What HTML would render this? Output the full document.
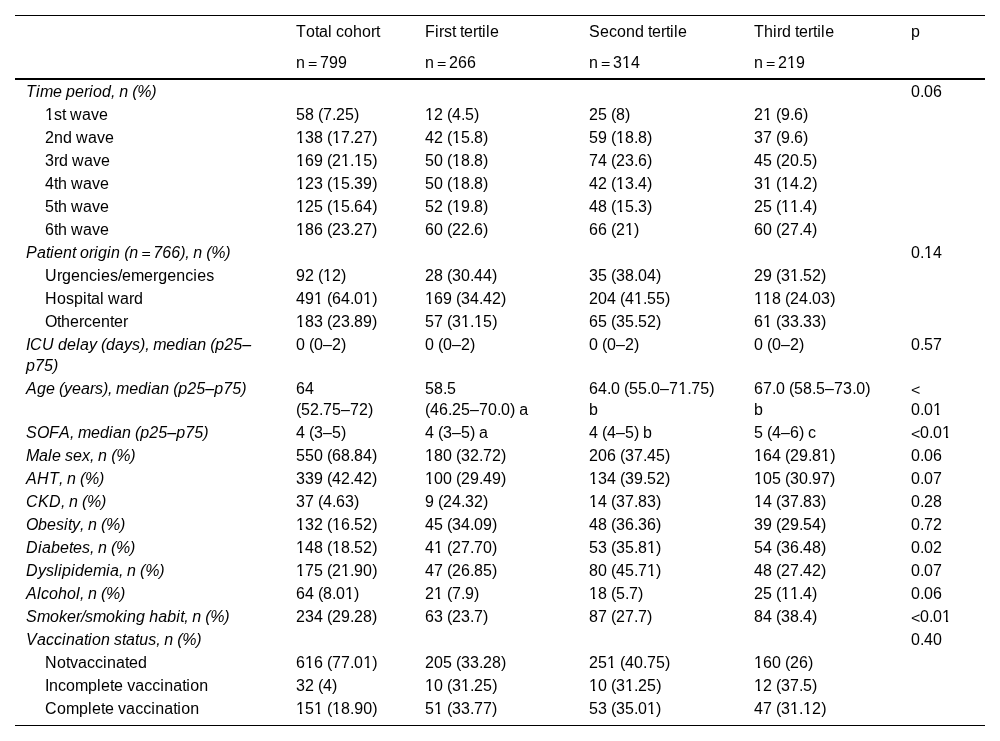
<!DOCTYPE html>
<html><head><meta charset="utf-8"><title>Table</title><style>
html,body{margin:0;padding:0;background:#fff;}
body{width:1000px;height:741px;overflow:hidden;position:relative;}
table{will-change:transform;position:absolute;left:15px;top:15px;width:970px;border-collapse:collapse;table-layout:fixed;font-family:"Liberation Sans",sans-serif;font-size:16px;line-height:21px;color:#000;font-kerning:none;border-top:1px solid #000;border-bottom:1px solid #000;}
td,th{padding:1px 0 1px 11px;vertical-align:top;text-align:left;font-weight:normal;white-space:nowrap;}
thead th{padding-top:5px;padding-bottom:5px;}
thead tr.last th{border-bottom:2px solid #000;}
td.h{font-style:italic;}
td.s{padding-left:30px;}
tr.end td{padding-bottom:6px;}
.e{display:inline-block;transform-origin:50% 16px;transform:translateY(-0.3px) scaleY(0.775);}
.lt{display:inline-block;transform-origin:50% 16px;transform:translateY(1.05px) scaleY(0.895);}
.o{display:inline-block;clip-path:polygon(0 0,100% 0,100% 14.1px,6.1px 14.1px,6.1px 100%,3.9px 100%,3.9px 14.1px,0 14.1px);}
.l0{letter-spacing:0.227px}
.l1{letter-spacing:0.102px}
.l2{letter-spacing:-0.445px}
.l3{letter-spacing:0.445px}
.l4{letter-spacing:-0.328px}
.l5{letter-spacing:0.328px}
.l6{letter-spacing:-0.203px}
.l7{letter-spacing:-0.344px}
.l8{letter-spacing:-0.227px}
</style></head><body>
<table><colgroup><col style="width:270px"><col style="width:129px"><col style="width:164px"><col style="width:165px"><col style="width:157px"><col style="width:85px"></colgroup>
<thead><tr><th></th><th><span class="l0">T</span><span class="l1">o</span><span class="l2">t</span><span class="l1">a</span><span class="l3">l</span><span class="l2"> </span>c<span class="l1">oho</span><span class="l4">r</span><span class="l2">t</span></th><th><span class="l0">F</span><span class="l3">i</span><span class="l4">r</span>s<span class="l2">t t</span><span class="l1">e</span><span class="l4">r</span><span class="l2">t</span><span class="l3">il</span><span class="l1">e</span></th><th><span class="l5">S</span><span class="l1">e</span>c<span class="l1">ond</span><span class="l2"> t</span><span class="l1">e</span><span class="l4">r</span><span class="l2">t</span><span class="l3">il</span><span class="l1">e</span></th><th><span class="l0">T</span><span class="l1">h</span><span class="l3">i</span><span class="l4">r</span><span class="l1">d</span><span class="l2"> t</span><span class="l1">e</span><span class="l4">r</span><span class="l2">t</span><span class="l3">il</span><span class="l1">e</span></th><th><span class="l1">p</span></th></tr>
<tr class="last"><th></th><th><span class="l1">n</span><span class="l6"> </span><span class="e l7">=</span><span class="l6"> </span><span class="l1">799</span></th><th><span class="l1">n</span><span class="l6"> </span><span class="e l7">=</span><span class="l6"> </span><span class="l1">266</span></th><th><span class="l1">n</span><span class="l6"> </span><span class="e l7">=</span><span class="l6"> </span><span class="l1">3</span><span class="o l1">1</span><span class="l1">4</span></th><th><span class="l1">n</span><span class="l6"> </span><span class="e l7">=</span><span class="l6"> </span><span class="l1">2</span><span class="o l1">1</span><span class="l1">9</span></th><th></th></tr></thead><tbody>
<tr><td class="h"><span class="l0">T</span><span class="l3">i</span><span class="l4">m</span><span class="l1">e</span><span class="l2"> </span><span class="l1">pe</span><span class="l4">r</span><span class="l3">i</span><span class="l1">od</span><span class="l2">, </span><span class="l1">n</span><span class="l2"> </span><span class="l4">(</span><span class="l8">%</span><span class="l4">)</span></td><td></td><td></td><td></td><td></td><td><span class="l1">0</span><span class="l2">.</span><span class="l1">06</span></td></tr>
<tr><td class="s"><span class="o l1">1</span>s<span class="l2">t </span><span class="l3">w</span><span class="l1">a</span>v<span class="l1">e</span></td><td><span class="l1">58</span><span class="l2"> </span><span class="l4">(</span><span class="l1">7</span><span class="l2">.</span><span class="l1">25</span><span class="l4">)</span></td><td><span class="o l1">1</span><span class="l1">2</span><span class="l2"> </span><span class="l4">(</span><span class="l1">4</span><span class="l2">.</span><span class="l1">5</span><span class="l4">)</span></td><td><span class="l1">25</span><span class="l2"> </span><span class="l4">(</span><span class="l1">8</span><span class="l4">)</span></td><td><span class="l1">2</span><span class="o l1">1</span><span class="l2"> </span><span class="l4">(</span><span class="l1">9</span><span class="l2">.</span><span class="l1">6</span><span class="l4">)</span></td><td></td></tr>
<tr><td class="s"><span class="l1">2nd</span><span class="l2"> </span><span class="l3">w</span><span class="l1">a</span>v<span class="l1">e</span></td><td><span class="o l1">1</span><span class="l1">38</span><span class="l2"> </span><span class="l4">(</span><span class="o l1">1</span><span class="l1">7</span><span class="l2">.</span><span class="l1">27</span><span class="l4">)</span></td><td><span class="l1">42</span><span class="l2"> </span><span class="l4">(</span><span class="o l1">1</span><span class="l1">5</span><span class="l2">.</span><span class="l1">8</span><span class="l4">)</span></td><td><span class="l1">59</span><span class="l2"> </span><span class="l4">(</span><span class="o l1">1</span><span class="l1">8</span><span class="l2">.</span><span class="l1">8</span><span class="l4">)</span></td><td><span class="l1">37</span><span class="l2"> </span><span class="l4">(</span><span class="l1">9</span><span class="l2">.</span><span class="l1">6</span><span class="l4">)</span></td><td></td></tr>
<tr><td class="s"><span class="l1">3</span><span class="l4">r</span><span class="l1">d</span><span class="l2"> </span><span class="l3">w</span><span class="l1">a</span>v<span class="l1">e</span></td><td><span class="o l1">1</span><span class="l1">69</span><span class="l2"> </span><span class="l4">(</span><span class="l1">2</span><span class="o l1">1</span><span class="l2">.</span><span class="o l1">1</span><span class="l1">5</span><span class="l4">)</span></td><td><span class="l1">50</span><span class="l2"> </span><span class="l4">(</span><span class="o l1">1</span><span class="l1">8</span><span class="l2">.</span><span class="l1">8</span><span class="l4">)</span></td><td><span class="l1">74</span><span class="l2"> </span><span class="l4">(</span><span class="l1">23</span><span class="l2">.</span><span class="l1">6</span><span class="l4">)</span></td><td><span class="l1">45</span><span class="l2"> </span><span class="l4">(</span><span class="l1">20</span><span class="l2">.</span><span class="l1">5</span><span class="l4">)</span></td><td></td></tr>
<tr><td class="s"><span class="l1">4</span><span class="l2">t</span><span class="l1">h</span><span class="l2"> </span><span class="l3">w</span><span class="l1">a</span>v<span class="l1">e</span></td><td><span class="o l1">1</span><span class="l1">23</span><span class="l2"> </span><span class="l4">(</span><span class="o l1">1</span><span class="l1">5</span><span class="l2">.</span><span class="l1">39</span><span class="l4">)</span></td><td><span class="l1">50</span><span class="l2"> </span><span class="l4">(</span><span class="o l1">1</span><span class="l1">8</span><span class="l2">.</span><span class="l1">8</span><span class="l4">)</span></td><td><span class="l1">42</span><span class="l2"> </span><span class="l4">(</span><span class="o l1">1</span><span class="l1">3</span><span class="l2">.</span><span class="l1">4</span><span class="l4">)</span></td><td><span class="l1">3</span><span class="o l1">1</span><span class="l2"> </span><span class="l4">(</span><span class="o l1">1</span><span class="l1">4</span><span class="l2">.</span><span class="l1">2</span><span class="l4">)</span></td><td></td></tr>
<tr><td class="s"><span class="l1">5</span><span class="l2">t</span><span class="l1">h</span><span class="l2"> </span><span class="l3">w</span><span class="l1">a</span>v<span class="l1">e</span></td><td><span class="o l1">1</span><span class="l1">25</span><span class="l2"> </span><span class="l4">(</span><span class="o l1">1</span><span class="l1">5</span><span class="l2">.</span><span class="l1">64</span><span class="l4">)</span></td><td><span class="l1">52</span><span class="l2"> </span><span class="l4">(</span><span class="o l1">1</span><span class="l1">9</span><span class="l2">.</span><span class="l1">8</span><span class="l4">)</span></td><td><span class="l1">48</span><span class="l2"> </span><span class="l4">(</span><span class="o l1">1</span><span class="l1">5</span><span class="l2">.</span><span class="l1">3</span><span class="l4">)</span></td><td><span class="l1">25</span><span class="l2"> </span><span class="l4">(</span><span class="o l1">1</span><span class="o l1">1</span><span class="l2">.</span><span class="l1">4</span><span class="l4">)</span></td><td></td></tr>
<tr><td class="s"><span class="l1">6</span><span class="l2">t</span><span class="l1">h</span><span class="l2"> </span><span class="l3">w</span><span class="l1">a</span>v<span class="l1">e</span></td><td><span class="o l1">1</span><span class="l1">86</span><span class="l2"> </span><span class="l4">(</span><span class="l1">23</span><span class="l2">.</span><span class="l1">27</span><span class="l4">)</span></td><td><span class="l1">60</span><span class="l2"> </span><span class="l4">(</span><span class="l1">22</span><span class="l2">.</span><span class="l1">6</span><span class="l4">)</span></td><td><span class="l1">66</span><span class="l2"> </span><span class="l4">(</span><span class="l1">2</span><span class="o l1">1</span><span class="l4">)</span></td><td><span class="l1">60</span><span class="l2"> </span><span class="l4">(</span><span class="l1">27</span><span class="l2">.</span><span class="l1">4</span><span class="l4">)</span></td><td></td></tr>
<tr><td class="h"><span class="l5">P</span><span class="l1">a</span><span class="l2">t</span><span class="l3">i</span><span class="l1">en</span><span class="l2">t </span><span class="l1">o</span><span class="l4">r</span><span class="l3">i</span><span class="l1">g</span><span class="l3">i</span><span class="l1">n</span><span class="l2"> </span><span class="l4">(</span><span class="l1">n</span><span class="l6"> </span><span class="e l7">=</span><span class="l6"> </span><span class="l1">766</span><span class="l4">)</span><span class="l2">, </span><span class="l1">n</span><span class="l2"> </span><span class="l4">(</span><span class="l8">%</span><span class="l4">)</span></td><td></td><td></td><td></td><td></td><td><span class="l1">0</span><span class="l2">.</span><span class="o l1">1</span><span class="l1">4</span></td></tr>
<tr><td class="s"><span class="l3">U</span><span class="l4">r</span><span class="l1">gen</span>c<span class="l3">i</span><span class="l1">e</span>s<span class="l2">/</span><span class="l1">e</span><span class="l4">m</span><span class="l1">e</span><span class="l4">r</span><span class="l1">gen</span>c<span class="l3">i</span><span class="l1">e</span>s</td><td><span class="l1">92</span><span class="l2"> </span><span class="l4">(</span><span class="o l1">1</span><span class="l1">2</span><span class="l4">)</span></td><td><span class="l1">28</span><span class="l2"> </span><span class="l4">(</span><span class="l1">30</span><span class="l2">.</span><span class="l1">44</span><span class="l4">)</span></td><td><span class="l1">35</span><span class="l2"> </span><span class="l4">(</span><span class="l1">38</span><span class="l2">.</span><span class="l1">04</span><span class="l4">)</span></td><td><span class="l1">29</span><span class="l2"> </span><span class="l4">(</span><span class="l1">3</span><span class="o l1">1</span><span class="l2">.</span><span class="l1">52</span><span class="l4">)</span></td><td></td></tr>
<tr><td class="s"><span class="l3">H</span><span class="l1">o</span>s<span class="l1">p</span><span class="l3">i</span><span class="l2">t</span><span class="l1">a</span><span class="l3">l</span><span class="l2"> </span><span class="l3">w</span><span class="l1">a</span><span class="l4">r</span><span class="l1">d</span></td><td><span class="l1">49</span><span class="o l1">1</span><span class="l2"> </span><span class="l4">(</span><span class="l1">64</span><span class="l2">.</span><span class="l1">0</span><span class="o l1">1</span><span class="l4">)</span></td><td><span class="o l1">1</span><span class="l1">69</span><span class="l2"> </span><span class="l4">(</span><span class="l1">34</span><span class="l2">.</span><span class="l1">42</span><span class="l4">)</span></td><td><span class="l1">204</span><span class="l2"> </span><span class="l4">(</span><span class="l1">4</span><span class="o l1">1</span><span class="l2">.</span><span class="l1">55</span><span class="l4">)</span></td><td><span class="o l1">1</span><span class="o l1">1</span><span class="l1">8</span><span class="l2"> </span><span class="l4">(</span><span class="l1">24</span><span class="l2">.</span><span class="l1">03</span><span class="l4">)</span></td><td></td></tr>
<tr><td class="s"><span class="l2">Ot</span><span class="l1">he</span><span class="l4">r</span>c<span class="l1">en</span><span class="l2">t</span><span class="l1">e</span><span class="l4">r</span></td><td><span class="o l1">1</span><span class="l1">83</span><span class="l2"> </span><span class="l4">(</span><span class="l1">23</span><span class="l2">.</span><span class="l1">89</span><span class="l4">)</span></td><td><span class="l1">57</span><span class="l2"> </span><span class="l4">(</span><span class="l1">3</span><span class="o l1">1</span><span class="l2">.</span><span class="o l1">1</span><span class="l1">5</span><span class="l4">)</span></td><td><span class="l1">65</span><span class="l2"> </span><span class="l4">(</span><span class="l1">35</span><span class="l2">.</span><span class="l1">52</span><span class="l4">)</span></td><td><span class="l1">6</span><span class="o l1">1</span><span class="l2"> </span><span class="l4">(</span><span class="l1">33</span><span class="l2">.</span><span class="l1">33</span><span class="l4">)</span></td><td></td></tr>
<tr><td class="h"><span class="l2">I</span><span class="l3">CU</span><span class="l2"> </span><span class="l1">de</span><span class="l3">l</span><span class="l1">a</span>y<span class="l2"> </span><span class="l4">(</span><span class="l1">da</span>ys<span class="l4">)</span><span class="l2">, </span><span class="l4">m</span><span class="l1">ed</span><span class="l3">i</span><span class="l1">an</span><span class="l2"> </span><span class="l4">(</span><span class="l1">p25–</span><br><span class="l1">p75</span><span class="l4">)</span></td><td><span class="l1">0</span><span class="l2"> </span><span class="l4">(</span><span class="l1">0–2</span><span class="l4">)</span></td><td><span class="l1">0</span><span class="l2"> </span><span class="l4">(</span><span class="l1">0–2</span><span class="l4">)</span></td><td><span class="l1">0</span><span class="l2"> </span><span class="l4">(</span><span class="l1">0–2</span><span class="l4">)</span></td><td><span class="l1">0</span><span class="l2"> </span><span class="l4">(</span><span class="l1">0–2</span><span class="l4">)</span></td><td><span class="l1">0</span><span class="l2">.</span><span class="l1">57</span></td></tr>
<tr><td class="h"><span class="l5">A</span><span class="l1">ge</span><span class="l2"> </span><span class="l4">(</span>y<span class="l1">ea</span><span class="l4">r</span>s<span class="l4">)</span><span class="l2">, </span><span class="l4">m</span><span class="l1">ed</span><span class="l3">i</span><span class="l1">an</span><span class="l2"> </span><span class="l4">(</span><span class="l1">p25–p75</span><span class="l4">)</span></td><td><span class="l1">64</span><br><span class="l4">(</span><span class="l1">52</span><span class="l2">.</span><span class="l1">75–72</span><span class="l4">)</span></td><td><span class="l1">58</span><span class="l2">.</span><span class="l1">5</span><br><span class="l4">(</span><span class="l1">46</span><span class="l2">.</span><span class="l1">25–70</span><span class="l2">.</span><span class="l1">0</span><span class="l4">)</span><span class="l2"> </span><span class="l1">a</span></td><td><span class="l1">64</span><span class="l2">.</span><span class="l1">0</span><span class="l2"> </span><span class="l4">(</span><span class="l1">55</span><span class="l2">.</span><span class="l1">0–7</span><span class="o l1">1</span><span class="l2">.</span><span class="l1">75</span><span class="l4">)</span><br><span class="l1">b</span></td><td><span class="l1">67</span><span class="l2">.</span><span class="l1">0</span><span class="l2"> </span><span class="l4">(</span><span class="l1">58</span><span class="l2">.</span><span class="l1">5–73</span><span class="l2">.</span><span class="l1">0</span><span class="l4">)</span><br><span class="l1">b</span></td><td><span class="lt l7">&lt;</span><br><span class="l1">0</span><span class="l2">.</span><span class="l1">0</span><span class="o l1">1</span></td></tr>
<tr><td class="h"><span class="l5">S</span><span class="l2">O</span><span class="l0">F</span><span class="l5">A</span><span class="l2">, </span><span class="l4">m</span><span class="l1">ed</span><span class="l3">i</span><span class="l1">an</span><span class="l2"> </span><span class="l4">(</span><span class="l1">p25–p75</span><span class="l4">)</span></td><td><span class="l1">4</span><span class="l2"> </span><span class="l4">(</span><span class="l1">3–5</span><span class="l4">)</span></td><td><span class="l1">4</span><span class="l2"> </span><span class="l4">(</span><span class="l1">3–5</span><span class="l4">)</span><span class="l2"> </span><span class="l1">a</span></td><td><span class="l1">4</span><span class="l2"> </span><span class="l4">(</span><span class="l1">4–5</span><span class="l4">)</span><span class="l2"> </span><span class="l1">b</span></td><td><span class="l1">5</span><span class="l2"> </span><span class="l4">(</span><span class="l1">4–6</span><span class="l4">)</span><span class="l2"> </span>c</td><td><span class="lt l7">&lt;</span><span class="l1">0</span><span class="l2">.</span><span class="l1">0</span><span class="o l1">1</span></td></tr>
<tr><td class="h"><span class="l4">M</span><span class="l1">a</span><span class="l3">l</span><span class="l1">e</span><span class="l2"> </span>s<span class="l1">e</span>x<span class="l2">, </span><span class="l1">n</span><span class="l2"> </span><span class="l4">(</span><span class="l8">%</span><span class="l4">)</span></td><td><span class="l1">550</span><span class="l2"> </span><span class="l4">(</span><span class="l1">68</span><span class="l2">.</span><span class="l1">84</span><span class="l4">)</span></td><td><span class="o l1">1</span><span class="l1">80</span><span class="l2"> </span><span class="l4">(</span><span class="l1">32</span><span class="l2">.</span><span class="l1">72</span><span class="l4">)</span></td><td><span class="l1">206</span><span class="l2"> </span><span class="l4">(</span><span class="l1">37</span><span class="l2">.</span><span class="l1">45</span><span class="l4">)</span></td><td><span class="o l1">1</span><span class="l1">64</span><span class="l2"> </span><span class="l4">(</span><span class="l1">29</span><span class="l2">.</span><span class="l1">8</span><span class="o l1">1</span><span class="l4">)</span></td><td><span class="l1">0</span><span class="l2">.</span><span class="l1">06</span></td></tr>
<tr><td class="h"><span class="l5">A</span><span class="l3">H</span><span class="l0">T</span><span class="l2">, </span><span class="l1">n</span><span class="l2"> </span><span class="l4">(</span><span class="l8">%</span><span class="l4">)</span></td><td><span class="l1">339</span><span class="l2"> </span><span class="l4">(</span><span class="l1">42</span><span class="l2">.</span><span class="l1">42</span><span class="l4">)</span></td><td><span class="o l1">1</span><span class="l1">00</span><span class="l2"> </span><span class="l4">(</span><span class="l1">29</span><span class="l2">.</span><span class="l1">49</span><span class="l4">)</span></td><td><span class="o l1">1</span><span class="l1">34</span><span class="l2"> </span><span class="l4">(</span><span class="l1">39</span><span class="l2">.</span><span class="l1">52</span><span class="l4">)</span></td><td><span class="o l1">1</span><span class="l1">05</span><span class="l2"> </span><span class="l4">(</span><span class="l1">30</span><span class="l2">.</span><span class="l1">97</span><span class="l4">)</span></td><td><span class="l1">0</span><span class="l2">.</span><span class="l1">07</span></td></tr>
<tr><td class="h"><span class="l3">C</span><span class="l5">K</span><span class="l3">D</span><span class="l2">, </span><span class="l1">n</span><span class="l2"> </span><span class="l4">(</span><span class="l8">%</span><span class="l4">)</span></td><td><span class="l1">37</span><span class="l2"> </span><span class="l4">(</span><span class="l1">4</span><span class="l2">.</span><span class="l1">63</span><span class="l4">)</span></td><td><span class="l1">9</span><span class="l2"> </span><span class="l4">(</span><span class="l1">24</span><span class="l2">.</span><span class="l1">32</span><span class="l4">)</span></td><td><span class="o l1">1</span><span class="l1">4</span><span class="l2"> </span><span class="l4">(</span><span class="l1">37</span><span class="l2">.</span><span class="l1">83</span><span class="l4">)</span></td><td><span class="o l1">1</span><span class="l1">4</span><span class="l2"> </span><span class="l4">(</span><span class="l1">37</span><span class="l2">.</span><span class="l1">83</span><span class="l4">)</span></td><td><span class="l1">0</span><span class="l2">.</span><span class="l1">28</span></td></tr>
<tr><td class="h"><span class="l2">O</span><span class="l1">be</span>s<span class="l3">i</span><span class="l2">t</span>y<span class="l2">, </span><span class="l1">n</span><span class="l2"> </span><span class="l4">(</span><span class="l8">%</span><span class="l4">)</span></td><td><span class="o l1">1</span><span class="l1">32</span><span class="l2"> </span><span class="l4">(</span><span class="o l1">1</span><span class="l1">6</span><span class="l2">.</span><span class="l1">52</span><span class="l4">)</span></td><td><span class="l1">45</span><span class="l2"> </span><span class="l4">(</span><span class="l1">34</span><span class="l2">.</span><span class="l1">09</span><span class="l4">)</span></td><td><span class="l1">48</span><span class="l2"> </span><span class="l4">(</span><span class="l1">36</span><span class="l2">.</span><span class="l1">36</span><span class="l4">)</span></td><td><span class="l1">39</span><span class="l2"> </span><span class="l4">(</span><span class="l1">29</span><span class="l2">.</span><span class="l1">54</span><span class="l4">)</span></td><td><span class="l1">0</span><span class="l2">.</span><span class="l1">72</span></td></tr>
<tr><td class="h"><span class="l3">Di</span><span class="l1">abe</span><span class="l2">t</span><span class="l1">e</span>s<span class="l2">, </span><span class="l1">n</span><span class="l2"> </span><span class="l4">(</span><span class="l8">%</span><span class="l4">)</span></td><td><span class="o l1">1</span><span class="l1">48</span><span class="l2"> </span><span class="l4">(</span><span class="o l1">1</span><span class="l1">8</span><span class="l2">.</span><span class="l1">52</span><span class="l4">)</span></td><td><span class="l1">4</span><span class="o l1">1</span><span class="l2"> </span><span class="l4">(</span><span class="l1">27</span><span class="l2">.</span><span class="l1">70</span><span class="l4">)</span></td><td><span class="l1">53</span><span class="l2"> </span><span class="l4">(</span><span class="l1">35</span><span class="l2">.</span><span class="l1">8</span><span class="o l1">1</span><span class="l4">)</span></td><td><span class="l1">54</span><span class="l2"> </span><span class="l4">(</span><span class="l1">36</span><span class="l2">.</span><span class="l1">48</span><span class="l4">)</span></td><td><span class="l1">0</span><span class="l2">.</span><span class="l1">02</span></td></tr>
<tr><td class="h"><span class="l3">D</span>ys<span class="l3">li</span><span class="l1">p</span><span class="l3">i</span><span class="l1">de</span><span class="l4">m</span><span class="l3">i</span><span class="l1">a</span><span class="l2">, </span><span class="l1">n</span><span class="l2"> </span><span class="l4">(</span><span class="l8">%</span><span class="l4">)</span></td><td><span class="o l1">1</span><span class="l1">75</span><span class="l2"> </span><span class="l4">(</span><span class="l1">2</span><span class="o l1">1</span><span class="l2">.</span><span class="l1">90</span><span class="l4">)</span></td><td><span class="l1">47</span><span class="l2"> </span><span class="l4">(</span><span class="l1">26</span><span class="l2">.</span><span class="l1">85</span><span class="l4">)</span></td><td><span class="l1">80</span><span class="l2"> </span><span class="l4">(</span><span class="l1">45</span><span class="l2">.</span><span class="l1">7</span><span class="o l1">1</span><span class="l4">)</span></td><td><span class="l1">48</span><span class="l2"> </span><span class="l4">(</span><span class="l1">27</span><span class="l2">.</span><span class="l1">42</span><span class="l4">)</span></td><td><span class="l1">0</span><span class="l2">.</span><span class="l1">07</span></td></tr>
<tr><td class="h"><span class="l5">A</span><span class="l3">l</span>c<span class="l1">oho</span><span class="l3">l</span><span class="l2">, </span><span class="l1">n</span><span class="l2"> </span><span class="l4">(</span><span class="l8">%</span><span class="l4">)</span></td><td><span class="l1">64</span><span class="l2"> </span><span class="l4">(</span><span class="l1">8</span><span class="l2">.</span><span class="l1">0</span><span class="o l1">1</span><span class="l4">)</span></td><td><span class="l1">2</span><span class="o l1">1</span><span class="l2"> </span><span class="l4">(</span><span class="l1">7</span><span class="l2">.</span><span class="l1">9</span><span class="l4">)</span></td><td><span class="o l1">1</span><span class="l1">8</span><span class="l2"> </span><span class="l4">(</span><span class="l1">5</span><span class="l2">.</span><span class="l1">7</span><span class="l4">)</span></td><td><span class="l1">25</span><span class="l2"> </span><span class="l4">(</span><span class="o l1">1</span><span class="o l1">1</span><span class="l2">.</span><span class="l1">4</span><span class="l4">)</span></td><td><span class="l1">0</span><span class="l2">.</span><span class="l1">06</span></td></tr>
<tr><td class="h"><span class="l5">S</span><span class="l4">m</span><span class="l1">o</span>k<span class="l1">e</span><span class="l4">r</span><span class="l2">/</span>s<span class="l4">m</span><span class="l1">o</span>k<span class="l3">i</span><span class="l1">ng</span><span class="l2"> </span><span class="l1">hab</span><span class="l3">i</span><span class="l2">t, </span><span class="l1">n</span><span class="l2"> </span><span class="l4">(</span><span class="l8">%</span><span class="l4">)</span></td><td><span class="l1">234</span><span class="l2"> </span><span class="l4">(</span><span class="l1">29</span><span class="l2">.</span><span class="l1">28</span><span class="l4">)</span></td><td><span class="l1">63</span><span class="l2"> </span><span class="l4">(</span><span class="l1">23</span><span class="l2">.</span><span class="l1">7</span><span class="l4">)</span></td><td><span class="l1">87</span><span class="l2"> </span><span class="l4">(</span><span class="l1">27</span><span class="l2">.</span><span class="l1">7</span><span class="l4">)</span></td><td><span class="l1">84</span><span class="l2"> </span><span class="l4">(</span><span class="l1">38</span><span class="l2">.</span><span class="l1">4</span><span class="l4">)</span></td><td><span class="lt l7">&lt;</span><span class="l1">0</span><span class="l2">.</span><span class="l1">0</span><span class="o l1">1</span></td></tr>
<tr><td class="h"><span class="l5">V</span><span class="l1">a</span>cc<span class="l3">i</span><span class="l1">na</span><span class="l2">t</span><span class="l3">i</span><span class="l1">on</span><span class="l2"> </span>s<span class="l2">t</span><span class="l1">a</span><span class="l2">t</span><span class="l1">u</span>s<span class="l2">, </span><span class="l1">n</span><span class="l2"> </span><span class="l4">(</span><span class="l8">%</span><span class="l4">)</span></td><td></td><td></td><td></td><td></td><td><span class="l1">0</span><span class="l2">.</span><span class="l1">40</span></td></tr>
<tr><td class="s"><span class="l3">N</span><span class="l1">o</span><span class="l2">t</span>v<span class="l1">a</span>cc<span class="l3">i</span><span class="l1">na</span><span class="l2">t</span><span class="l1">ed</span></td><td><span class="l1">6</span><span class="o l1">1</span><span class="l1">6</span><span class="l2"> </span><span class="l4">(</span><span class="l1">77</span><span class="l2">.</span><span class="l1">0</span><span class="o l1">1</span><span class="l4">)</span></td><td><span class="l1">205</span><span class="l2"> </span><span class="l4">(</span><span class="l1">33</span><span class="l2">.</span><span class="l1">28</span><span class="l4">)</span></td><td><span class="l1">25</span><span class="o l1">1</span><span class="l2"> </span><span class="l4">(</span><span class="l1">40</span><span class="l2">.</span><span class="l1">75</span><span class="l4">)</span></td><td><span class="o l1">1</span><span class="l1">60</span><span class="l2"> </span><span class="l4">(</span><span class="l1">26</span><span class="l4">)</span></td><td></td></tr>
<tr><td class="s"><span class="l2">I</span><span class="l1">n</span>c<span class="l1">o</span><span class="l4">m</span><span class="l1">p</span><span class="l3">l</span><span class="l1">e</span><span class="l2">t</span><span class="l1">e</span><span class="l2"> </span>v<span class="l1">a</span>cc<span class="l3">i</span><span class="l1">na</span><span class="l2">t</span><span class="l3">i</span><span class="l1">on</span></td><td><span class="l1">32</span><span class="l2"> </span><span class="l4">(</span><span class="l1">4</span><span class="l4">)</span></td><td><span class="o l1">1</span><span class="l1">0</span><span class="l2"> </span><span class="l4">(</span><span class="l1">3</span><span class="o l1">1</span><span class="l2">.</span><span class="l1">25</span><span class="l4">)</span></td><td><span class="o l1">1</span><span class="l1">0</span><span class="l2"> </span><span class="l4">(</span><span class="l1">3</span><span class="o l1">1</span><span class="l2">.</span><span class="l1">25</span><span class="l4">)</span></td><td><span class="o l1">1</span><span class="l1">2</span><span class="l2"> </span><span class="l4">(</span><span class="l1">37</span><span class="l2">.</span><span class="l1">5</span><span class="l4">)</span></td><td></td></tr>
<tr class="end"><td class="s"><span class="l3">C</span><span class="l1">o</span><span class="l4">m</span><span class="l1">p</span><span class="l3">l</span><span class="l1">e</span><span class="l2">t</span><span class="l1">e</span><span class="l2"> </span>v<span class="l1">a</span>cc<span class="l3">i</span><span class="l1">na</span><span class="l2">t</span><span class="l3">i</span><span class="l1">on</span></td><td><span class="o l1">1</span><span class="l1">5</span><span class="o l1">1</span><span class="l2"> </span><span class="l4">(</span><span class="o l1">1</span><span class="l1">8</span><span class="l2">.</span><span class="l1">90</span><span class="l4">)</span></td><td><span class="l1">5</span><span class="o l1">1</span><span class="l2"> </span><span class="l4">(</span><span class="l1">33</span><span class="l2">.</span><span class="l1">77</span><span class="l4">)</span></td><td><span class="l1">53</span><span class="l2"> </span><span class="l4">(</span><span class="l1">35</span><span class="l2">.</span><span class="l1">0</span><span class="o l1">1</span><span class="l4">)</span></td><td><span class="l1">47</span><span class="l2"> </span><span class="l4">(</span><span class="l1">3</span><span class="o l1">1</span><span class="l2">.</span><span class="o l1">1</span><span class="l1">2</span><span class="l4">)</span></td><td></td></tr>
</tbody></table>
</body></html>
